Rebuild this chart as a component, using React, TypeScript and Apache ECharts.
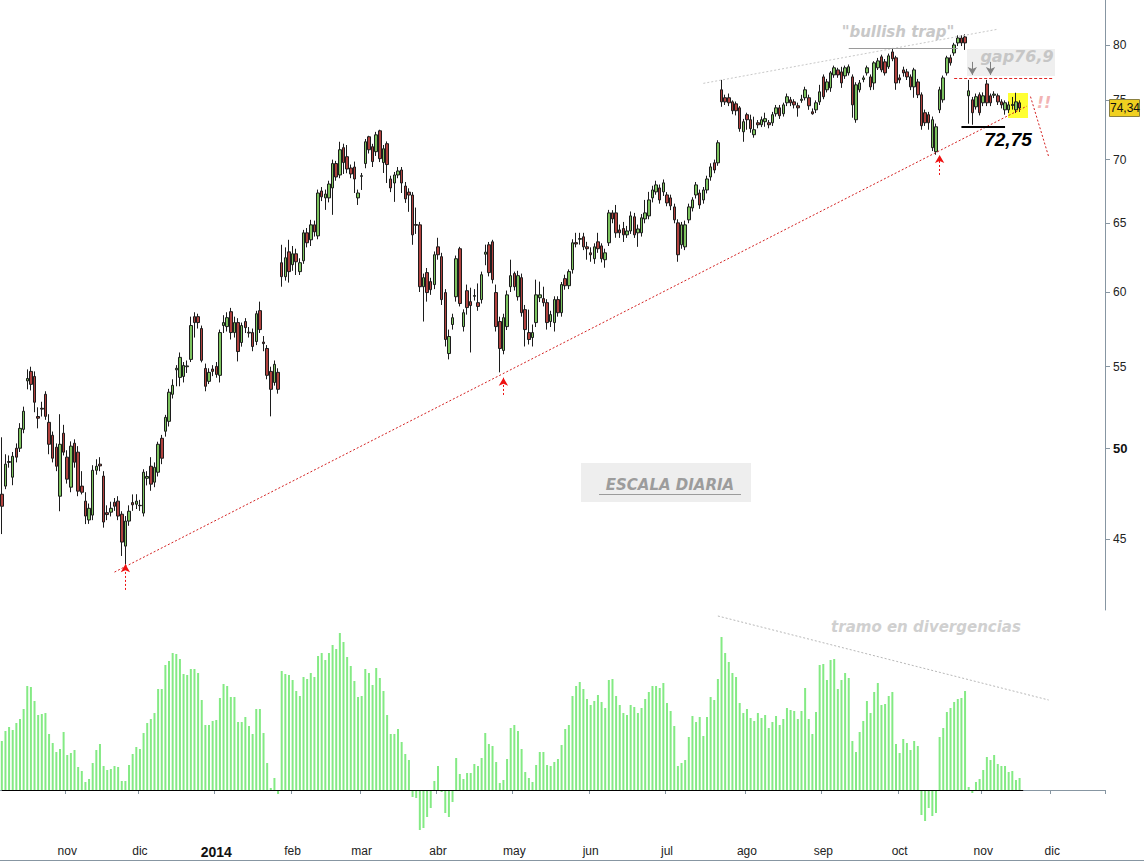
import React, { useEffect, useRef } from "react";
import * as echarts from "echarts";

// ---------- categories ----------
const FIRST_SESSION = "2013-10-08";
const SESSION_SLOTS = 304;
const MARKET_HOLIDAYS = [
  "2013-11-28", "2013-12-25", "2014-01-01", "2014-01-20", "2014-02-17",
  "2014-04-18", "2014-05-26", "2014-07-04", "2014-09-01", "2014-11-27", "2014-12-25",
];
const MONTH_LABELS = ["ene", "feb", "mar", "abr", "may", "jun", "jul", "ago", "sep", "oct", "nov", "dic"];
const PRICE_TICKS = [45, 50, 55, 60, 65, 70, 75, 80];
const PRICE_MIN = 41.43;
const PRICE_MAX = 84.3;
const LAST_PRICE_LABEL = "74,34";

// ---------- daily candles: [open, close, low, high] ----------
const CANDLES_2013 = [
  [47.41, 46.75, 45.26, 50.66], [47.86, 49.10, 47.69, 49.67], [49.20, 49.25, 48.90, 49.60], [48.36, 49.55, 47.91, 49.80],
  [50.02, 49.50, 49.20, 50.30], [50.02, 51.19, 49.80, 51.50], [51.13, 52.22, 50.90, 52.50], [54.10, 54.25, 53.57, 54.83],
  [54.70, 53.88, 53.50, 55.00], [54.38, 52.77, 52.16, 54.70], [51.90, 51.80, 51.19, 52.46], [52.40, 52.35, 51.90, 52.80],
  [53.26, 51.91, 51.70, 53.45], [51.55, 50.25, 49.67, 52.04], [50.78, 49.44, 49.20, 51.00], [50.08, 48.98, 48.70, 50.30],
  [47.30, 50.25, 46.48, 52.04], [50.90, 49.79, 49.60, 51.40], [49.50, 48.25, 48.00, 49.90], [47.80, 50.14, 47.52, 50.42],
  [50.31, 49.21, 48.90, 50.54], [49.79, 47.58, 47.30, 50.14], [47.86, 47.52, 47.40, 48.70], [47.03, 46.22, 45.79, 47.52],
  [46.01, 46.64, 45.80, 46.90], [46.27, 48.75, 46.00, 49.04], [48.75, 48.98, 48.50, 49.38], [49.10, 49.00, 48.70, 49.50],
  [48.42, 45.90, 45.60, 48.70], [46.40, 46.30, 46.00, 46.80], [46.43, 46.64, 46.20, 47.00], [46.97, 46.75, 46.50, 47.20],
  [47.03, 46.22, 46.00, 47.30], [46.32, 44.84, 44.12, 46.48], [44.63, 45.95, 43.71, 46.22], [45.95, 46.48, 45.70, 46.80],
  [46.95, 46.83, 46.50, 47.40], [46.86, 47.03, 46.60, 47.41], [46.80, 46.78, 46.50, 47.10], [46.38, 48.64, 46.20, 48.81],
  [48.30, 48.40, 47.90, 48.70], [48.98, 47.97, 47.60, 49.50], [48.08, 48.92, 47.80, 49.20], [48.64, 50.25, 48.40, 50.40],
  [50.60, 49.44, 49.10, 50.80], [51.02, 51.85, 50.70, 52.00], [51.61, 53.39, 51.30, 53.60], [53.26, 53.82, 53.00, 54.20],
  [54.80, 54.90, 53.76, 55.10], [54.32, 55.60, 53.76, 55.92], [54.38, 55.08, 54.00, 55.30], [55.00, 55.05, 54.60, 55.40],
  [55.47, 57.70, 55.30, 58.30], [58.30, 57.90, 56.90, 58.60], [58.30, 57.90, 57.50, 58.50], [57.50, 55.41, 55.28, 57.70],
  [54.89, 53.76, 53.45, 55.20], [54.07, 54.64, 53.90, 54.90], [54.85, 54.70, 54.40, 55.10],
];
const CANDLES_2014_Q1 = [
  [55.02, 54.51, 54.30, 55.30], [54.45, 57.23, 54.00, 57.43], [57.70, 57.90, 57.20, 58.40], [57.63, 58.23, 57.30, 58.60],
  [58.64, 57.23, 56.77, 58.90], [57.23, 57.90, 56.90, 58.30], [57.90, 55.98, 55.34, 58.20], [56.57, 57.70, 56.30, 57.90],
  [57.97, 57.56, 57.20, 58.20], [57.25, 57.20, 56.90, 57.60], [57.23, 56.31, 56.00, 57.50], [56.64, 58.50, 56.40, 58.70],
  [58.71, 57.43, 57.20, 59.33], [56.60, 56.50, 56.00, 57.00], [56.18, 54.45, 54.20, 56.40], [54.70, 53.57, 51.91, 55.00],
  [54.00, 55.15, 53.80, 55.40], [54.64, 53.57, 53.30, 54.90], [62.08, 61.08, 60.37, 63.39], [61.08, 62.44, 60.80, 63.20],
  [62.87, 61.44, 60.66, 63.76], [61.94, 62.73, 61.50, 63.30], [62.73, 62.15, 61.20, 63.10], [61.44, 62.08, 61.20, 62.40],
  [62.22, 64.28, 62.00, 64.50], [64.28, 63.54, 63.20, 64.64], [63.76, 64.88, 63.30, 65.26], [64.88, 64.35, 64.00, 65.20],
  [64.05, 67.33, 63.80, 67.60], [67.49, 67.03, 66.70, 67.80], [66.95, 67.25, 66.02, 67.60], [66.95, 68.04, 66.60, 68.30],
  [67.73, 69.68, 65.64, 70.00], [69.68, 68.60, 68.30, 69.90], [68.76, 70.81, 68.50, 71.47], [70.98, 69.76, 68.84, 71.31],
  [70.24, 69.24, 68.90, 71.20], [69.32, 68.84, 68.50, 69.60], [69.40, 68.44, 67.33, 69.84], [66.95, 67.33, 66.40, 67.60],
  [68.65, 68.70, 67.57, 68.92], [69.68, 71.47, 69.30, 71.70], [71.89, 70.81, 70.50, 71.97], [71.06, 69.84, 69.40, 71.30],
  [70.65, 72.05, 70.30, 72.30], [72.39, 70.08, 69.80, 72.48], [69.76, 70.89, 68.92, 71.20], [71.31, 69.60, 68.12, 71.50],
  [68.44, 67.73, 67.40, 68.70], [68.12, 68.76, 66.64, 69.00], [68.76, 69.08, 68.50, 69.40], [69.16, 68.12, 67.33, 69.40],
  [67.88, 66.87, 66.56, 68.20], [67.40, 67.17, 65.87, 67.70], [67.17, 64.13, 63.39, 67.40], [64.90, 64.85, 64.20, 66.20],
  [64.88, 60.37, 60.00, 65.10], [60.37, 61.01, 57.97, 61.30], [61.37, 59.96, 59.33, 61.70], [60.73, 60.16, 59.80, 61.00],
  [60.52, 62.66, 60.20, 62.90],
];
const CANDLES_2014_Q2 = [
  [63.24, 62.66, 62.30, 63.91], [62.52, 59.47, 59.10, 62.80], [59.96, 56.77, 56.31, 60.20], [55.85, 56.97, 55.47, 57.43],
  [57.77, 58.23, 57.43, 58.50], [59.67, 62.37, 59.33, 62.60], [63.10, 59.20, 59.00, 63.24], [57.63, 58.57, 57.30, 58.80],
  [60.09, 58.92, 58.44, 60.52], [59.33, 59.06, 55.92, 60.30], [59.70, 59.75, 59.40, 60.20], [59.26, 59.00, 58.70, 60.60],
  [59.47, 61.22, 59.20, 61.44], [62.70, 62.85, 61.90, 63.40], [63.39, 61.37, 61.10, 63.60], [63.61, 60.87, 60.60, 63.76],
  [59.96, 57.63, 57.30, 60.52], [57.97, 56.18, 54.64, 58.30], [56.05, 58.23, 55.80, 58.50], [57.63, 59.80, 57.40, 60.10],
  [60.37, 61.15, 60.00, 62.30], [61.30, 60.37, 60.10, 61.44], [59.67, 61.15, 59.40, 61.50], [61.01, 58.57, 58.30, 61.30],
  [58.78, 57.43, 56.31, 59.10], [57.23, 56.77, 56.44, 58.78], [56.90, 57.23, 56.31, 57.77], [57.90, 59.80, 57.60, 60.87],
  [59.60, 59.80, 59.30, 60.73], [59.54, 59.26, 59.00, 60.37], [59.26, 57.90, 57.43, 59.50], [57.97, 58.44, 57.60, 58.70],
  [57.90, 59.47, 57.30, 59.70], [59.47, 58.57, 58.30, 59.70], [58.57, 60.52, 58.30, 60.70], [60.94, 60.44, 60.16, 61.22],
  [60.44, 61.44, 60.20, 61.60], [61.58, 63.54, 61.30, 63.80], [63.55, 63.45, 63.20, 64.28], [63.80, 63.85, 63.40, 64.28],
  [63.98, 63.24, 63.00, 64.28], [63.24, 63.10, 62.30, 63.61], [62.80, 62.66, 62.15, 63.20], [62.37, 63.24, 62.00, 63.50],
  [63.61, 63.10, 62.80, 64.28], [63.31, 62.37, 62.10, 63.50], [62.30, 62.80, 61.72, 63.10], [63.54, 65.79, 63.30, 66.02],
  [65.79, 65.33, 65.00, 66.00], [65.79, 64.28, 63.91, 66.40], [64.50, 64.28, 63.90, 64.90], [64.60, 64.13, 63.60, 65.10],
  [64.13, 64.42, 63.90, 64.80], [64.42, 65.56, 64.20, 65.90], [65.49, 64.13, 63.90, 65.79], [64.28, 64.57, 63.24, 64.90],
  [64.28, 65.41, 64.00, 65.70], [65.33, 65.79, 65.00, 66.79], [65.56, 66.79, 65.30, 67.42], [66.95, 67.57, 66.60, 67.90],
  [67.42, 67.97, 67.20, 68.30], [67.73, 66.79, 66.50, 68.00], [67.42, 68.13, 67.10, 68.40],
];
const CANDLES_2014_Q3 = [
  [67.18, 66.56, 66.30, 67.40], [66.95, 66.33, 66.00, 67.20], [66.25, 65.26, 65.00, 66.50], [65.03, 62.66, 62.15, 65.30],
  [63.39, 64.88, 63.10, 65.10], [63.24, 64.88, 63.00, 65.20], [65.26, 66.25, 65.00, 66.50], [66.17, 66.79, 65.90, 67.00],
  [67.18, 67.97, 66.90, 68.20], [67.33, 66.40, 66.10, 67.60], [66.79, 67.57, 66.50, 67.80], [67.57, 68.44, 67.30, 68.70],
  [68.60, 69.41, 68.30, 69.70], [69.74, 69.16, 68.90, 70.00], [69.74, 71.39, 69.50, 71.60], [75.93, 74.87, 74.44, 76.81],
  [75.23, 74.87, 74.60, 75.50], [75.23, 74.79, 74.50, 75.60], [74.87, 74.10, 73.80, 75.00], [74.70, 74.10, 73.70, 74.90],
  [74.35, 72.57, 72.31, 74.50], [72.31, 73.16, 71.47, 73.40], [73.76, 73.33, 72.48, 73.93], [73.33, 72.57, 72.23, 73.76],
  [72.06, 72.48, 71.81, 73.59], [73.07, 72.90, 72.60, 73.30], [72.90, 73.33, 72.70, 73.60], [73.16, 73.42, 72.73, 73.93],
  [73.07, 72.90, 72.60, 73.30], [73.07, 73.76, 72.80, 74.00], [73.84, 74.35, 73.60, 74.60], [74.35, 73.67, 73.40, 74.60],
  [73.84, 74.61, 73.60, 74.80], [74.79, 75.32, 74.50, 75.60], [75.05, 74.79, 74.50, 75.30], [74.87, 74.61, 74.30, 75.10],
  [74.53, 74.35, 73.59, 74.80], [75.00, 75.10, 74.79, 75.49], [75.23, 75.93, 75.00, 76.20], [75.23, 74.53, 74.18, 75.50],
  [74.01, 73.84, 73.76, 74.30], [74.18, 74.79, 73.90, 75.00], [74.87, 75.75, 74.60, 76.37], [77.08, 75.32, 75.10, 77.30],
  [75.93, 76.63, 75.70, 76.90], [76.10, 77.44, 75.75, 77.60], [77.26, 77.90, 77.00, 78.10], [77.71, 77.26, 77.00, 77.90],
  [77.53, 76.54, 76.10, 77.99], [77.17, 77.90, 76.90, 78.10], [77.44, 77.99, 77.20, 78.20], [77.08, 74.61, 73.50, 77.30],
  [73.33, 76.37, 73.07, 76.60], [75.93, 76.54, 75.70, 76.80], [76.85, 76.99, 76.60, 77.20], [77.44, 77.90, 77.20, 78.10],
  [77.08, 76.19, 75.90, 77.30], [76.54, 78.35, 75.93, 78.50], [77.90, 78.53, 77.70, 78.80], [78.90, 77.71, 77.50, 79.10],
  [78.44, 77.44, 77.20, 78.70], [77.99, 78.99, 77.80, 79.20], [79.35, 78.72, 78.50, 79.72], [78.81, 76.54, 75.93, 79.00],
];
const CANDLES_2014_Q4 = [
  [76.99, 76.81, 76.50, 77.30], [77.71, 77.44, 77.10, 78.00], [77.53, 77.08, 76.80, 77.80], [77.08, 76.19, 75.90, 77.30],
  [76.19, 77.71, 75.23, 77.90], [76.63, 75.49, 75.20, 76.90], [75.49, 72.82, 72.48, 75.70], [73.93, 73.07, 72.80, 74.20],
  [73.76, 73.07, 72.48, 74.00], [70.98, 73.33, 70.70, 73.60], [70.65, 72.73, 70.40, 73.00], [74.18, 75.93, 73.90, 76.20],
  [75.05, 76.99, 74.80, 77.20], [77.44, 78.81, 77.20, 79.00], [78.81, 78.35, 78.10, 79.10], [79.26, 80.00, 79.00, 80.20],
  [80.19, 80.65, 79.90, 80.90], [80.65, 80.19, 79.90, 80.90], [80.75, 80.19, 79.54, 81.00], [75.40, 75.84, 72.99, 76.81],
  [75.05, 73.93, 72.90, 75.30], [74.44, 75.32, 74.20, 75.60], [75.49, 73.93, 73.70, 75.70], [74.79, 75.40, 74.50, 75.70],
  [76.45, 74.79, 74.50, 76.81], [75.40, 74.79, 74.50, 75.60], [75.45, 75.55, 75.20, 75.80], [75.40, 74.87, 74.60, 75.60],
  [74.87, 74.61, 74.30, 75.10], [74.18, 74.79, 73.76, 75.00], [74.18, 74.61, 73.90, 74.90], [74.55, 74.65, 74.20, 75.30],
  [74.18, 74.87, 73.90, 75.67], [74.79, 74.34, 74.00, 75.00],
];

// ---------- lower indicator (histogram) ----------
const HIST_2013 = [
  4.9, 5.9, 6.3, 6.0, 6.7, 7.1, 8.1, 10.4, 10.3, 8.9, 7.5, 7.6, 7.7, 5.6, 4.7, 3.8, 4.1, 5.8, 3.5, 3.7,
  4.0, 2.3, 1.9, 0.8, 1.1, 2.7, 4.0, 4.6, 2.4, 2.0, 2.1, 2.4, 2.3, 0.9, 0.9, 2.5, 3.6, 4.3, 4.1, 5.7,
  6.7, 7.1, 7.7, 10.1, 10.1, 12.5, 12.9, 13.7, 13.6, 13.1, 11.6, 11.5, 12.1, 12.1, 11.7, 9.0, 6.5, 6.5, 6.9,
];
const HIST_2014_Q1 = [
  7.0, 9.2, 10.6, 10.4, 9.3, 9.3, 6.8, 6.8, 7.3, 6.4, 5.6, 8.1, 8.1, 5.7, 2.7, 0.2, 1.2, -0.4, 11.9, 11.6,
  11.5, 11.0, 9.9, 9.4, 11.3, 11.1, 11.7, 11.3, 13.4, 13.7, 13.0, 13.7, 14.5, 14.1, 15.7, 14.8, 13.3, 12.4, 10.9, 9.3,
  9.4, 12.1, 11.7, 10.5, 12.2, 11.2, 9.9, 7.5, 5.6, 5.6, 6.1, 4.8, 3.6, 3.0, -0.7, -0.8, -4.0, -3.8, -2.7, -1.8, 0.9,
];
const HIST_2014_Q2 = [
  2.4, -0.2, -2.3, -2.7, -1.2, 3.2, 1.6, 1.1, 1.7, 1.7, 2.6, 2.4, 3.2, 5.7, 4.6, 4.4, 2.8, 0.7, 1.0, 3.1,
  6.2, 6.5, 5.9, 4.1, 1.8, 1.2, 0.8, 2.5, 3.8, 3.8, 2.5, 2.4, 2.8, 3.1, 4.5, 6.1, 6.5, 9.4, 10.4, 10.8,
  10.1, 9.1, 8.5, 8.9, 9.5, 8.8, 8.2, 11.0, 11.1, 9.4, 8.5, 7.7, 7.5, 8.5, 8.3, 7.7, 8.2, 9.1, 9.8, 10.4,
  10.4, 10.2, 10.7,
];
const HIST_2014_Q3 = [
  8.7, 7.9, 6.4, 2.4, 2.7, 3.0, 5.3, 7.4, 6.8, 7.3, 5.4, 7.3, 9.3, 9.0, 11.1, 15.3, 13.7, 12.8, 11.7, 11.3,
  8.7, 7.7, 8.1, 7.2, 6.9, 7.7, 7.2, 7.5, 6.2, 6.8, 7.4, 6.5, 7.1, 8.2, 8.0, 7.9, 7.1, 7.9, 10.2, 7.1,
  5.6, 7.8, 12.5, 12.6, 11.0, 13.0, 13.1, 10.1, 11.0, 11.7, 11.2, 4.9, 3.8, 5.8, 6.9, 8.9, 7.7, 9.8, 10.7, 8.5,
  8.6, 9.4, 9.8, 4.6,
];
const HIST_2014_Q4 = [
  3.7, 5.1, 4.7, 4.0, 4.9, 4.4, -2.5, -3.1, -1.8, -2.6, -2.3, 5.3, 6.2, 7.8, 8.2, 8.8, 9.1, 9.2, 9.9, 0.3,
  -0.3, 0.8, 1.1, 2.0, 3.3, 3.0, 3.5, 2.6, 2.4, 2.4, 1.8, 1.9, 1.0, 1.2,
];

// ---------- annotations (session index, price) ----------
const SUPPORT_TREND = [[31, 43.3], [282, 74.5]];
const RESISTANCE_TREND = [[193, 76.5], [274, 81.48]];
const TRAP_LEVEL = [[233, 79.72], [263, 79.72]];
const GAP_LEVEL = [[262, 76.94], [289, 76.94]];
const SUPPORT_LEVEL = [[264, 72.75], [276, 72.75]];
const PROJECTION = [[283, 75.33], [288, 70.24]];
const UP_ARROWS = [[34, 42.41, 43.7], [138, 53.22, 54.3], [258, 68.76, 70.38]];
const DOWN_ARROWS = [[267, 78.44, 77.26], [272, 78.44, 77.26]];
const DIVERGENCE_TREND = [[197, 17.4], [288, 9.0]];

function buildSessions(start: string, count: number, holidays: string[]): string[] {
  const out: string[] = [];
  const d = new Date(start + "T00:00:00Z");
  while (out.length < count) {
    const dow = d.getUTCDay();
    const iso = d.toISOString().slice(0, 10);
    if (dow !== 0 && dow !== 6 && holidays.indexOf(iso) < 0) out.push(iso);
    d.setUTCDate(d.getUTCDate() + 1);
  }
  return out;
}

const FONT = '"Liberation Sans", Arial, sans-serif';
const NOTE_FONT = '"DejaVu Sans", Verdana, sans-serif';

function buildOption() {
  const sessions = buildSessions(FIRST_SESSION, SESSION_SLOTS, MARKET_HOLIDAYS);
  const monthStart = sessions.map((d, i) => i > 0 && d.slice(0, 7) !== sessions[i - 1].slice(0, 7));
  const lp = (p: number) => Math.log(p);
  const candles = [...CANDLES_2013, ...CANDLES_2014_Q1, ...CANDLES_2014_Q2, ...CANDLES_2014_Q3, ...CANDLES_2014_Q4].map(
    ([o, c, l, h]) => [lp(o), lp(c), lp(l), lp(h)]
  );
  const hist = [...HIST_2013, ...HIST_2014_Q1, ...HIST_2014_Q2, ...HIST_2014_Q3, ...HIST_2014_Q4];

  const seg = (a: number[], b: number[], style: any, endSymbol = "none", log = true) => [
    { coord: [a[0], log ? lp(a[1]) : a[1]], lineStyle: style, itemStyle: { color: style.color }, symbol: "none" },
    { coord: [b[0], log ? lp(b[1]) : b[1]], itemStyle: { color: style.color }, symbol: endSymbol, symbolSize: [7, 8] },
  ];
  const red = "#d42020";
  const priceLines: any[] = [
    seg(SUPPORT_TREND[0], SUPPORT_TREND[1], { color: red, width: 1, type: [2, 2] }),
    seg(RESISTANCE_TREND[0], RESISTANCE_TREND[1], { color: "#c8c8c8", width: 1, type: [2, 2] }),
    seg(TRAP_LEVEL[0], TRAP_LEVEL[1], { color: "#9a9a9a", width: 1, type: "solid" }),
    seg(GAP_LEVEL[0], GAP_LEVEL[1], { color: "#e02424", width: 1.2, type: [3, 2] }),
    seg(SUPPORT_LEVEL[0], SUPPORT_LEVEL[1], { color: "#000000", width: 2, type: "solid" }),
    seg(PROJECTION[0], PROJECTION[1], { color: red, width: 1, type: [2, 2] }),
    ...UP_ARROWS.map(([i, a, b]) => seg([i, a], [i, b], { color: "#ee1111", width: 1, type: [2, 2] }, "arrow")),
    ...DOWN_ARROWS.map(([i, a, b]) => seg([i, a], [i, b], { color: "#808080", width: 1, type: "solid" }, "arrow")),
  ];

  const fmtMonth = (v: string) => {
    const m = Number(v.slice(5, 7)) - 1;
    return m === 0 ? `{y|${v.slice(0, 4)}}` : MONTH_LABELS[m];
  };
  const axisColor = "#8796a2";

  const textEl = (text: string, x: number, y: number, size: number, fill: string, family = NOTE_FONT, z = 50) => ({
    type: "text",
    x,
    y,
    z,
    silent: true,
    style: {
      text,
      fill,
      font: `italic bold ${size}px ${family}`,
      textAlign: "center",
      textVerticalAlign: "middle",
    },
  });

  return {
    animation: false,
    backgroundColor: "#ffffff",
    textStyle: { fontFamily: FONT },
    grid: [
      { left: 0, right: 39, top: 0, height: 610 },
      { left: 0, right: 39, top: 610, height: 230 },
    ],
    xAxis: [
      { type: "category", gridIndex: 0, data: sessions, show: false },
      {
        type: "category",
        gridIndex: 1,
        data: sessions,
        position: "bottom",
        axisLine: { show: true, lineStyle: { color: axisColor, width: 1 } },
        axisTick: { show: true, interval: (i: number) => monthStart[i], length: 4, lineStyle: { color: axisColor } },
        axisLabel: {
          interval: (i: number) => monthStart[i],
          formatter: fmtMonth,
          color: "#222",
          fontSize: 12,
          margin: 5,
          fontFamily: FONT,
          rich: { y: { fontWeight: "bold", fontSize: 14, color: "#111", fontFamily: FONT } },
        },
        splitLine: { show: false },
      },
    ],
    yAxis: [
      {
        type: "value",
        gridIndex: 0,
        position: "right",
        min: lp(PRICE_MIN),
        max: lp(PRICE_MAX),
        axisLine: { show: true, lineStyle: { color: axisColor } },
        axisTick: { show: true, length: 5, customValues: PRICE_TICKS.map(lp), lineStyle: { color: axisColor } },
        axisLabel: {
          customValues: PRICE_TICKS.map(lp),
          formatter: (v: number) => {
            const p = Math.round(Math.exp(v));
            return p === 50 ? "{b|50}" : String(p);
          },
          color: "#222",
          fontSize: 12,
          margin: 8,
          fontFamily: FONT,
          rich: { b: { fontWeight: "bold", fontSize: 13, color: "#111", fontFamily: FONT } },
        },
        splitLine: { show: false },
      },
      { type: "value", gridIndex: 1, min: -5, max: 18, show: false, splitLine: { show: false } },
    ],
    series: [
      {
        type: "candlestick",
        name: "precio",
        xAxisIndex: 0,
        yAxisIndex: 0,
        data: candles,
        barWidth: 3,
        silent: true,
        itemStyle: {
          color: "#7cc35f",
          color0: "#b0413e",
          borderColor: "#1c1c1c",
          borderColor0: "#1c1c1c",
          borderWidth: 1,
        },
        markLine: {
          silent: true,
          animation: false,
          symbol: ["none", "none"],
          label: { show: false },
          emphasis: { disabled: true },
          data: priceLines,
        },
      },
      {
        type: "bar",
        name: "oscilador",
        xAxisIndex: 1,
        yAxisIndex: 1,
        data: hist,
        barWidth: 2,
        silent: true,
        itemStyle: { color: "#84ea84" },
        markLine: {
          silent: true,
          animation: false,
          symbol: ["none", "none"],
          label: { show: false },
          emphasis: { disabled: true },
          data: [
            seg([0, 0], [hist.length, 0], { color: "#000000", width: 1, type: "solid" }, "none", false),
            seg(DIVERGENCE_TREND[0], DIVERGENCE_TREND[1], { color: "#b8b8b8", width: 1, type: [2, 2] }, "none", false),
          ],
        },
      },
    ],
    graphic: [
      { type: "rect", z: 1, silent: true, shape: { x: 967, y: 49, width: 88, height: 27 }, style: { fill: "#efefef" } },
      { type: "rect", z: 1, silent: true, shape: { x: 1008, y: 93, width: 20, height: 25 }, style: { fill: "#ffff33" } },
      { type: "rect", z: 1, silent: true, shape: { x: 581, y: 463, width: 170, height: 39 }, style: { fill: "#eeeeee" } },
      textEl('"bullish trap"', 898, 32, 15, "#c8c8c8"),
      textEl("gap76,9", 1017, 56, 16, "#c6c6c6"),
      textEl("72,75", 1008, 139, 19, "#000000", FONT),
      textEl("!!", 1044, 102, 16, "#f2b4b4"),
      textEl("ESCALA DIARIA", 670, 485, 15, "#9c9c9c"),
      { type: "line", z: 50, silent: true, shape: { x1: 599, y1: 494.5, x2: 741, y2: 494.5 }, style: { stroke: "#9c9c9c", lineWidth: 1 } },
      textEl("tramo en divergencias", 926, 627, 15, "#d0d0d0"),
      { type: "line", z: 50, silent: true, shape: { x1: 0, y1: 860.5, x2: 1144, y2: 860.5 }, style: { stroke: axisColor, lineWidth: 1 } },
      { type: "rect", z: 100, silent: true, shape: { x: 1109.5, y: 99.5, width: 30, height: 17 }, style: { fill: "#f0d020", stroke: "#8a8040", lineWidth: 1 } },
      {
        type: "text",
        z: 101,
        silent: true,
        x: 1125,
        y: 108,
        style: { text: LAST_PRICE_LABEL, fill: "#111", font: `12px ${FONT}`, textAlign: "center", textVerticalAlign: "middle" },
      },
    ],
  };
}

export default function App() {
  const ref = useRef<HTMLDivElement>(null);
  useEffect(() => {
    if (!ref.current) return;
    const chart = echarts.init(ref.current, null, { renderer: "svg" });
    chart.setOption(buildOption() as any);
    return () => chart.dispose();
  }, []);
  return (
    <div
      ref={ref}
      style={{ position: "absolute", left: 0, top: 0, width: 1144, height: 861, background: "#ffffff" }}
    />
  );
}
